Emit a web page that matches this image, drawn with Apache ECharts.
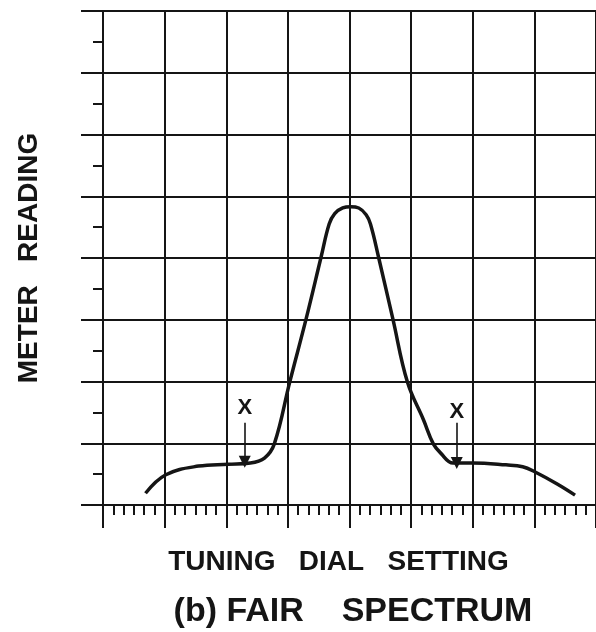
<!DOCTYPE html>
<html>
<head>
<meta charset="utf-8">
<script src="https://cdn.jsdelivr.net/npm/echarts@6/dist/echarts.min.js"></script>
<style>
html, body { margin: 0; padding: 0; background: #fff; }
#main { width: 596px; height: 632px; }
</style>
</head>
<body>
<div id="main"></div>
<script>
// meter reading vs tuning dial setting (b) fair spectrum
var dialX = [0.69, 1.02, 1.55, 2.03, 2.39, 2.62, 2.78, 3.03, 3.30, 3.54, 3.67, 3.76, 3.89, 4.02, 4.15, 4.27, 4.34, 4.47, 4.70, 4.94, 5.20, 5.36, 5.48, 5.68, 6.00, 6.54, 6.81, 7.02, 7.37, 7.66];
var meterY = [0.19, 0.49, 0.63, 0.66, 0.68, 0.76, 0.99, 1.99, 3.03, 4.02, 4.55, 4.72, 4.81, 4.83, 4.81, 4.70, 4.55, 4.02, 3.03, 1.99, 1.38, 0.99, 0.84, 0.68, 0.68, 0.65, 0.62, 0.53, 0.34, 0.16];

var markX = [2.30, 5.74];
var markLabelY = [1.57, 1.51];
var arrowTop = [1.33, 1.33];
var arrowBottom = [0.70, 0.68];

var curve = dialX.map(function (x, i) { return [x, meterY[i]]; });
var marks = markX.map(function (x, i) { return [x, markLabelY[i]]; });
var arrows = markX.map(function (x, i) {
    return { coords: [[x, arrowTop[i]], [x, arrowBottom[i]]] };
});

var ink = '#151515';
var font = '"Liberation Sans", Arial, sans-serif';

var myChart = echarts.init(document.getElementById('main'));
var option = {
    backgroundColor : '#ffffff',
    animation : false,
    title : {
	text : '(b) FAIR    SPECTRUM',
	left : 348,
	top : 590,
	textAlign : 'center',
	textStyle : {
	    fontFamily : font,
	    fontSize : 34,
	    fontWeight : 'bold',
	    color : ink
	}
    },
    grid : {
	left : 103,
	right : -9,
	top : 11,
	bottom : 127
    },
    xAxis : {
	type : 'value',
	min : 0,
	max : 8,
	interval : 1,
	name : 'TUNING   DIAL   SETTING',
	nameLocation : 'middle',
	nameGap : 43,
	nameTextStyle : {
	    fontFamily : font,
	    fontSize : 28,
	    fontWeight : 'bold',
	    color : ink,
	    padding : [0, 22, 0, 0]
	},
	axisLine : { show : true, lineStyle : { color : ink, width : 2 } },
	axisTick : { show : true, length : 23, lineStyle : { color : ink, width : 2 } },
	minorTick : { show : true, splitNumber : 6, length : 10, lineStyle : { color : ink, width : 2 } },
	axisLabel : { show : false },
	splitLine : { show : true, lineStyle : { color : ink, width : 2 } }
    },
    yAxis : {
	type : 'value',
	min : 0,
	max : 8,
	interval : 1,
	name : 'METER   READING',
	nameLocation : 'middle',
	nameGap : 60,
	nameTextStyle : {
	    fontFamily : font,
	    fontSize : 28,
	    fontWeight : 'bold',
	    color : ink
	},
	axisLine : { show : true, lineStyle : { color : ink, width : 2 } },
	axisTick : { show : true, length : 22, lineStyle : { color : ink, width : 2 } },
	minorTick : { show : true, splitNumber : 2, length : 10, lineStyle : { color : ink, width : 2 } },
	axisLabel : { show : false },
	splitLine : { show : true, lineStyle : { color : ink, width : 2 } }
    },
    series : [ {
	name : 'meter',
	type : 'line',
	smooth : 0.4,
	symbol : 'none',
	lineStyle : { color : ink, width : 3.5 },
	data : curve,
	z : 5
    }, {
	name : 'arrows',
	type : 'lines',
	coordinateSystem : 'cartesian2d',
	symbol : [ 'none', 'triangle' ],
	symbolSize : [ 8, 12 ],
	lineStyle : { color : ink, width : 1.6, opacity : 1 },
	data : arrows,
	z : 6
    }, {
	name : 'X',
	type : 'scatter',
	symbolSize : 0,
	itemStyle : { color : ink, opacity : 1 },
	label : {
	    show : true,
	    position : 'inside',
	    formatter : 'X',
	    fontFamily : font,
	    fontSize : 22,
	    fontWeight : 'bold',
	    color : ink,
	    opacity : 1
	},
	data : marks,
	z : 6
    } ]
};
myChart.setOption(option);
</script>
</body>
</html>
